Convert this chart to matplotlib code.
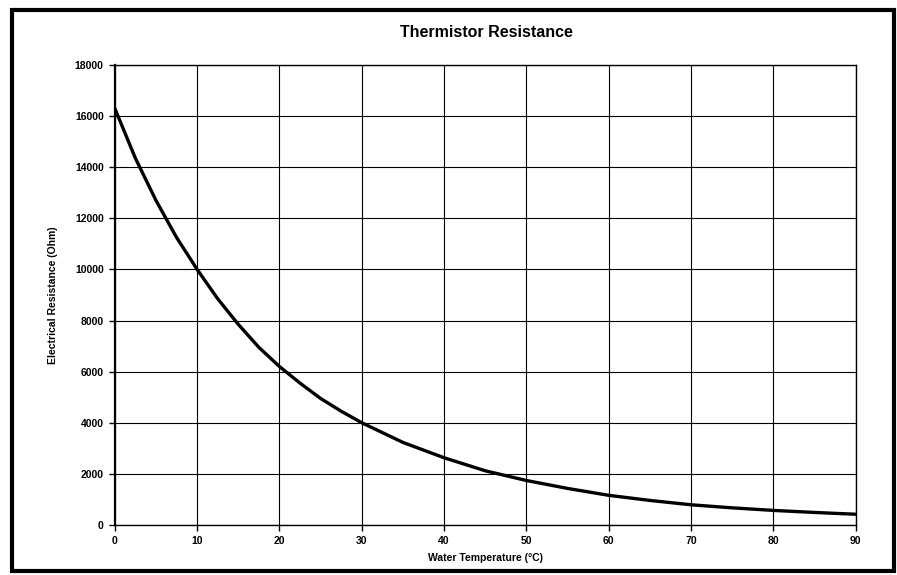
import numpy as np
import matplotlib
matplotlib.use("Agg")
import matplotlib.pyplot as plt
from matplotlib.patches import Rectangle

# water temperature (deg C) and thermistor resistance (ohm)
temperature = [0, 2.5, 5, 7.5, 10, 12.5, 15, 17.5, 20, 22.5, 25, 27.5, 30, 35, 40, 45,
               50, 55, 60, 65, 70, 75, 80, 85, 90]
resistance = [16300, 14350, 12700, 11250, 10000, 8850, 7850, 6950, 6200, 5550, 4950,
              4450, 4000, 3230, 2630, 2120, 1740, 1430, 1160, 960, 790, 670, 570, 490, 420]

x_ticks = list(range(0, 91, 10))
y_ticks = list(range(0, 18001, 2000))

plt.rcParams['font.family'] = ['Liberation Sans', 'DejaVu Sans']

fig = plt.figure(figsize=(8.97, 5.75), dpi=100)
ax = fig.add_axes([0.128, 0.087, 0.826, 0.800])

ax.plot(temperature, resistance, color='black', linewidth=2.4,
        solid_capstyle='round', solid_joinstyle='round')

ax.set_xlim(0, 90)
ax.set_ylim(0, 18000)
ax.set_xticks(x_ticks)
ax.set_yticks(y_ticks)
ax.grid(True, color='black', linewidth=0.8)
ax.set_axisbelow(True)
for s in ax.spines.values():
    s.set_linewidth(1.0)
ax.spines['left'].set_linewidth(1.6)
ax.tick_params(direction='out', length=4, width=1, labelsize=7.5, pad=4)
for lbl in ax.get_xticklabels() + ax.get_yticklabels():
    lbl.set_fontweight('bold')

ax.set_xlabel('Water Temperature (°C)', fontsize=7.5, fontweight='bold', labelpad=5)
ax.set_ylabel('Electrical Resistance (Ohm)', fontsize=7.5, fontweight='bold', labelpad=12)
fig.text(0.542, 0.943, 'Thermistor Resistance', ha='center', va='center',
         fontsize=11.5, fontweight='bold')

# outer chart frame
fig.patches.append(Rectangle((12 / 897, 4 / 575), 882 / 897, 561 / 575,
                             transform=fig.transFigure, fill=False,
                             edgecolor='black', linewidth=3))

fig.savefig('out.png', dpi=100)
